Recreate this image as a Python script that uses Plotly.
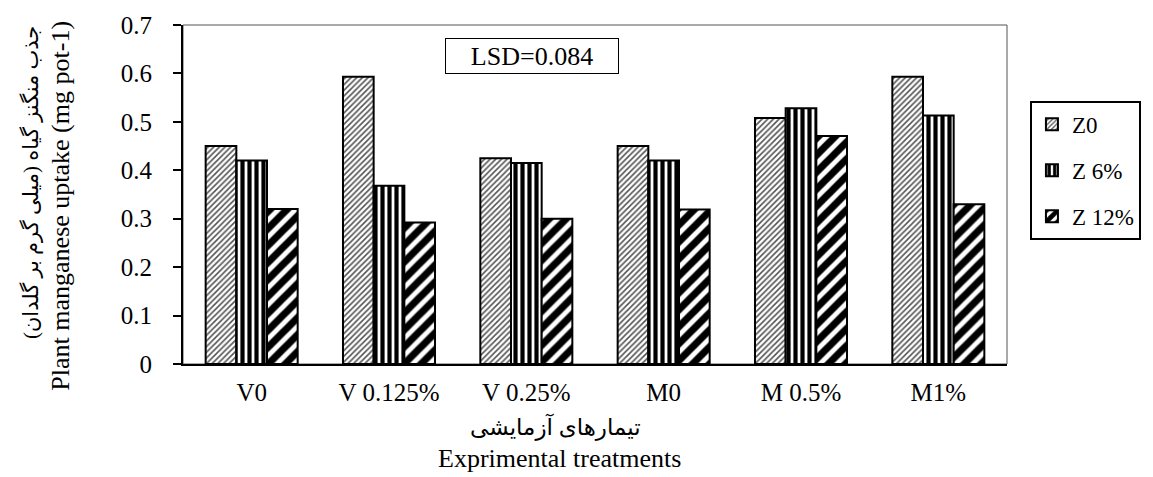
import plotly.graph_objects as go

categories = ["V0", "V 0.125%", "V 0.25%", "M0", "M 0.5%", "M1%"]
z0 = [0.45, 0.593, 0.425, 0.45, 0.508, 0.593]
z6 = [0.42, 0.368, 0.415, 0.42, 0.528, 0.513]
z12 = [0.32, 0.292, 0.30, 0.319, 0.471, 0.33]
series_names = ["Z0", "Z 6%", "Z 12%"]
y_ticks = [0, 0.1, 0.2, 0.3, 0.4, 0.5, 0.6, 0.7]

FONT = "Liberation Serif, Times New Roman, DejaVu Sans, serif"

patterns = [
    dict(shape="/", size=4, solidity=0.4, fgcolor="#555", bgcolor="white", fgopacity=1),
    dict(shape="|", size=7, solidity=0.6, fgcolor="black", bgcolor="white", fgopacity=1),
    dict(shape="/", size=12, solidity=0.6, fgcolor="black", bgcolor="white", fgopacity=1),
]

fig = go.Figure()
for name, vals, pat in zip(series_names, [z0, z6, z12], patterns):
    fig.add_trace(go.Bar(
        x=categories, y=vals, name=name, legendgroup=name,
        marker=dict(color="white", pattern=pat, line=dict(color="black", width=2)),
    ))

L, R, T, B = 183, 144, 20, 113
W, H = 1153, 477
pw, ph = W - L - R, H - T - B

def px(x):
    return (x - L) / pw

def py(y):
    return (H - B - y) / ph

def ann(text, x, y, size, angle=0, **kw):
    d = dict(text=text, x=px(x), y=py(y), xref="paper", yref="paper",
             xanchor="center", yanchor="middle", showarrow=False,
             textangle=angle, font=dict(size=size))
    d.update(kw)
    return d

fig.update_layout(
    width=W, height=H,
    margin=dict(l=L, r=R, t=T, b=B, pad=0),
    paper_bgcolor="white", plot_bgcolor="white",
    barmode="group", bargap=0.33, bargroupgap=0,
    font=dict(family=FONT, size=25, color="black"),
    showlegend=True,
    legend=dict(
        x=px(1032), y=py(97), xanchor="left", yanchor="top",
        bordercolor="black", borderwidth=2, bgcolor="white",
        font=dict(family=FONT, size=23, color="black"),
        tracegroupgap=13, itemwidth=30,
    ),
    xaxis=dict(
        showline=True, linecolor="black", linewidth=2,
        ticks="", showgrid=False, zeroline=False,
        tickfont=dict(size=25), ticklabelstandoff=5,
    ),
    yaxis=dict(
        range=[0, 0.7], tickvals=y_ticks, ticktext=[f"{v:g}" for v in y_ticks],
        showline=True, linecolor="black", linewidth=2,
        ticks="outside", ticklen=8, tickwidth=2, tickcolor="black",
        showgrid=False, zeroline=False,
        tickfont=dict(size=25), ticklabelstandoff=16,
    ),
    shapes=[dict(type="rect", xref="paper", yref="paper", x0=0, x1=1, y0=0, y1=1,
                 line=dict(color="#555", width=1), layer="below")],
    annotations=[
        ann("LSD=0.084", 533, 51, 26, bordercolor="black", borderwidth=1,
            borderpad=1, width=170, height=32, bgcolor="white"),
        ann("جذب منگنز گیاه (میلی گرم بر گلدان)", 30, 180, 21, angle=-90),
        ann("Plant manganese uptake (mg pot-1)", 60, 203, 26, angle=-90),
        ann("تیمارهای آزمایشی", 556, 428, 23),
        ann("Exprimental treatments", 560, 460, 26),
    ],
)

fig.write_html("out.html")
